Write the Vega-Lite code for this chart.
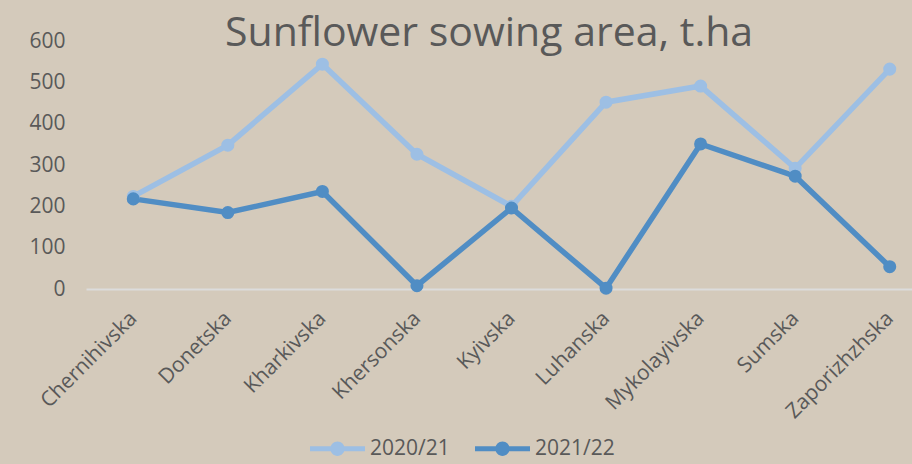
{
  "$schema": "https://vega.github.io/schema/vega-lite/v6.json",
  "width": 851,
  "height": 248,
  "autosize": {"type": "none"},
  "padding": {"left": 86, "top": 41, "right": 0, "bottom": 175},
  "background": "#d4cabb",
  "title": {
    "text": "Sunflower sowing area, t.ha",
    "font": "Open Sans",
    "fontSize": 41,
    "fontWeight": "normal",
    "color": "#595959",
    "anchor": "start",
    "frame": "group",
    "orient": "top",
    "baseline": "alphabetic",
    "offset": -57,
    "dx": 139
  },
  "config": {
    "view": {"stroke": null},
    "font": "Open Sans",
    "axis": {"labelFont": "Open Sans", "labelColor": "#595959", "labelFontSize": 21, "grid": false, "ticks": false}
  },
  "data": {
    "values": [
      {"region": "Chernihivska", "year": "2020/21", "value": 224},
      {"region": "Donetska", "year": "2020/21", "value": 348},
      {"region": "Kharkivska", "year": "2020/21", "value": 544},
      {"region": "Khersonska", "year": "2020/21", "value": 326},
      {"region": "Kyivska", "year": "2020/21", "value": 200},
      {"region": "Luhanska", "year": "2020/21", "value": 452},
      {"region": "Mykolayivska", "year": "2020/21", "value": 491},
      {"region": "Sumska", "year": "2020/21", "value": 292},
      {"region": "Zaporizhzhska", "year": "2020/21", "value": 532},
      {"region": "Chernihivska", "year": "2021/22", "value": 218},
      {"region": "Donetska", "year": "2021/22", "value": 185},
      {"region": "Kharkivska", "year": "2021/22", "value": 236},
      {"region": "Khersonska", "year": "2021/22", "value": 8},
      {"region": "Kyivska", "year": "2021/22", "value": 196},
      {"region": "Luhanska", "year": "2021/22", "value": 2},
      {"region": "Mykolayivska", "year": "2021/22", "value": 351},
      {"region": "Sumska", "year": "2021/22", "value": 273},
      {"region": "Zaporizhzhska", "year": "2021/22", "value": 54}
    ]
  },
  "encoding": {
    "x": {
      "field": "region",
      "type": "nominal",
      "sort": null,
      "scale": {"type": "point", "padding": 0.5},
      "axis": {
        "title": null,
        "labelAngle": -45,
        "labelAlign": "right",
        "labelBaseline": "middle",
        "labelPadding": 26,
        "domainColor": "#dcdcdc",
        "domainWidth": 2
      }
    },
    "y": {
      "field": "value",
      "type": "quantitative",
      "scale": {"domain": [0, 600], "nice": false},
      "axis": {
        "title": null,
        "values": [0, 100, 200, 300, 400, 500, 600],
        "domain": false,
        "labelPadding": 21
      }
    },
    "color": {
      "field": "year",
      "type": "nominal",
      "scale": {"domain": ["2020/21", "2021/22"], "range": ["#9dbfe4", "#508dc4"]},
      "legend": {
        "title": null,
        "orient": "none",
        "direction": "horizontal",
        "legendX": 224,
        "legendY": 380,
        "padding": 0,
        "symbolType": "M-1,-0.09H1V0.09H-1Z M-0.26,0A0.26,0.26 0 1,1 0.26,0A0.26,0.26 0 1,1 -0.26,0Z",
        "symbolSize": 3025,
        "symbolStrokeWidth": 0,
        "labelFont": "Open Sans",
        "labelFontSize": 21,
        "labelColor": "#595959",
        "labelOffset": 5,
        "columnPadding": 25,
        "encode": {
          "symbols": {"update": {"fill": {"scale": "color", "field": "value"}, "opacity": {"value": 1}, "strokeWidth": {"value": 0}}}
        }
      }
    }
  },
  "layer": [
    {
      "mark": {"type": "line", "strokeWidth": 5.5}
    },
    {
      "mark": {"type": "point", "filled": true, "size": 170, "opacity": 1}
    }
  ]
}
